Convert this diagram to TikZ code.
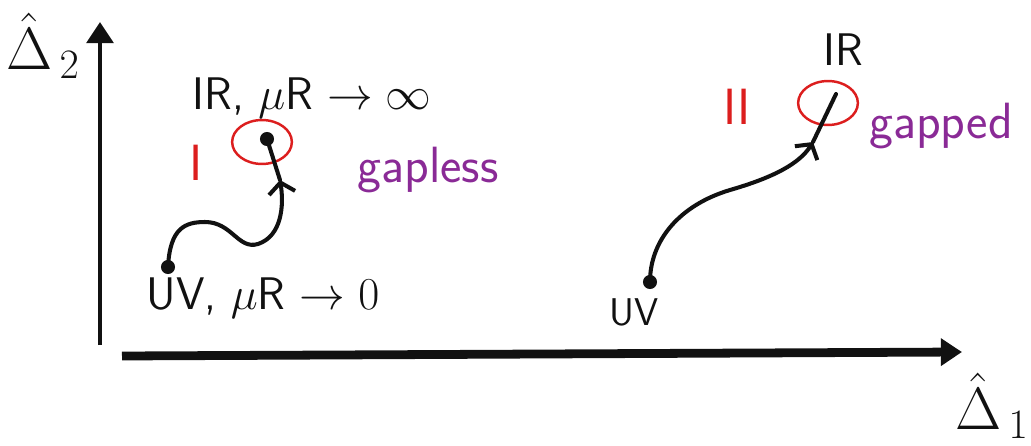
\RequirePackage{fix-cm}
\documentclass[tikz,border=0pt]{standalone}
\usepackage{amsmath,amssymb}
\usepackage{fontspec}
\usepackage{xcolor}
\usepackage{tikz}
\usetikzlibrary{arrows.meta,positioning,shapes.geometric}
\definecolor{cInk}{HTML}{111111}
\definecolor{cRed}{HTML}{DC1E1E}
\definecolor{cPurple}{HTML}{8A2A96}
\tikzset{
  axis/.style={-{Triangle[length=12pt,width=15pt]},line width=#1,color=cInk},
  axis/.default=3pt,
  flow/.style={-{Straight Barb[length=6pt,width=15pt]},line width=2.3pt,color=cInk,line cap=round},
  trail/.style={line width=2.3pt,color=cInk,line cap=round},
  dot/.style={circle,fill=cInk,inner sep=0pt,minimum size=8pt},
  ring/.style={ellipse,draw=cRed,line width=1.4pt,minimum width=34pt,minimum height=25pt,inner sep=0pt},
  lbl/.style={font=\fontsize{26}{30}\selectfont\sffamily,text=#1,inner sep=0pt},
  lbl/.default=cInk,
  tag/.style={font=\fontsize{29}{33}\selectfont\sffamily,text=#1,inner sep=0pt},
  axlbl/.style={font=\fontsize{34}{40}\selectfont,text=cInk,inner sep=0pt},
}

\begin{document}
\begin{tikzpicture}[x=0.02cm,y=-0.02cm]
  \useasboundingbox (0,0) rectangle (1031,446);
  % axes
  \draw[axis=2.8pt] (100,345) -- (100,22);
  \draw[axis=5pt] (122,356) -- (962,352);
  \node[axlbl] (d2) at (43,46) {$\hat{\Delta}_{\,2}$};
  \node[axlbl] (d1) at (992,406) {$\hat{\Delta}_{\,1}$};
  % region I: gapless
  \node[dot] (uvA) at (168,267) {};
  \node[dot] (irA) at (267,139) {};
  \node[ring] (ringA) at (262,142) {};
  \coordinate (midA) at (280,180);
  \draw[flow] (uvA.center) .. controls (170,228) and (185,222) .. (205,222)
    .. controls (232,222) and (238,250) .. (258,244)
    .. controls (282,236) and (284,205) .. (midA);
  \draw[trail] (midA) -- (irA.center);
  \node[lbl] (irAlbl) at (312,98) {IR, $\mu$R $\to\infty$};
  \node[lbl] (uvAlbl) at (263,298) {UV, $\mu$R $\to 0$};
  \node[tag=cRed] (regA) at (196,163) {I};
  \node[tag=cPurple] (gapA) at (428,170) {gapless};
  % region II: gapped
  \node[dot] (uvB) at (650,282) {};
  \node[ring] (ringB) at (828,103) {};
  \coordinate (midB) at (813,142);
  \coordinate (irB) at (836,94);
  \draw[flow] (uvB.center) .. controls (650,240) and (680,205) .. (730,190)
    .. controls (775,177) and (800,163) .. (midB);
  \draw[trail] (midB) -- (irB);
  \node[lbl] (irBlbl) at (843,50) {IR};
  \node[lbl,font=\fontsize{22}{26}\selectfont\sffamily] (uvBlbl) at (634,312) {UV};
  \node[tag=cRed] (regB) at (737,107) {II};
  \node[tag=cPurple] (gapB) at (941,126) {gapped};
\end{tikzpicture}
\end{document}
